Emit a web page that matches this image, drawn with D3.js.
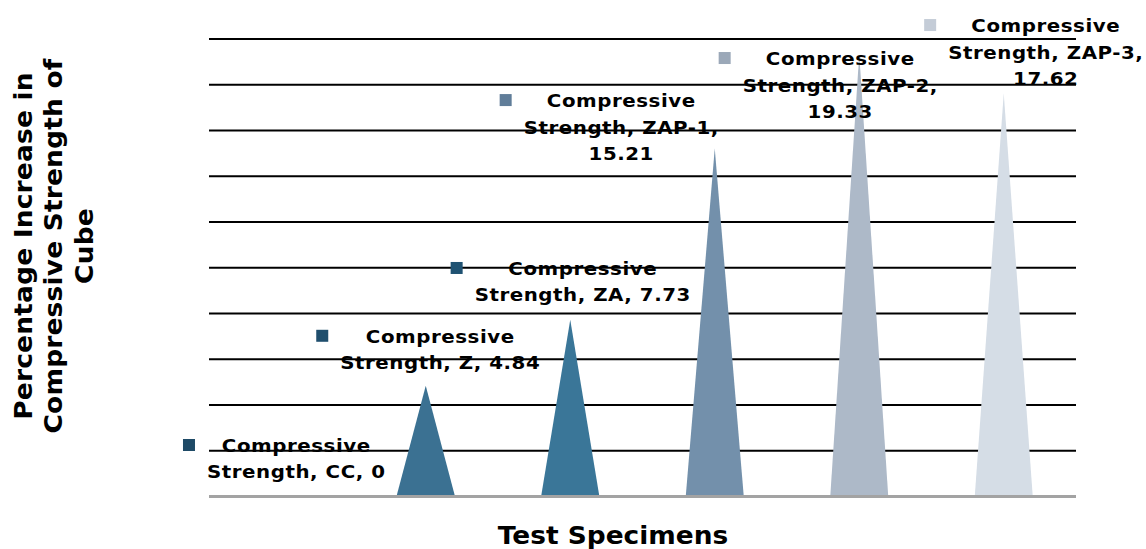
<!DOCTYPE html>
<html>
<head>
<meta charset="utf-8">
<script src="https://cdn.jsdelivr.net/npm/d3@7"></script>
<style>
  html, body { margin: 0; padding: 0; background: #fff; }
  svg { display: block; }
  text { font-family: "DejaVu Sans", Verdana, sans-serif; font-weight: bold; fill: #000; }
</style>
</head>
<body>
<svg id="chart" width="1146" height="549"></svg>
<script>
// ---- data ----
const seriesName = "Compressive Strength";
const categories = ["CC", "Z", "ZA", "ZAP-1", "ZAP-2", "ZAP-3"];
const values = [0, 4.84, 7.73, 15.21, 19.33, 17.62];
const yTicks = [2, 4, 6, 8, 10, 12, 14, 16, 18, 20];
const xTitle = "Test Specimens";
const yTitleLines = ["Percentage Increase in", "Compressive Strength of", "Cube"];

// ---- styles / layout ----
const coneColors = ["#2f5f80", "#3b7192", "#3a7698", "#7390ab", "#adb9c8", "#d5dde6"];
const markerColors = ["#1e4a66", "#1f4e6d", "#1f5272", "#607d99", "#9ba8b8", "#c4ccd7"];
// label offsets: dx from category centre, dy of first baseline from the cone tip, number of lines
const labelDx = [15, 14.5, 12.5, -93.5, -19, 42];
const labelDy = [-44.5, -43, -44.7, -41.5, 10.7, -61.4];
const labelLines = [2, 2, 2, 3, 3, 3];
const stretch = 1.1;

const svg = d3.select("#chart");
const x = d3.scaleBand().domain(categories).range([209, 1076]).paddingInner(0).paddingOuter(0);
const y = d3.scaleLinear().domain([0, 20]).range([496.5, 39]);

// gridlines
const grid = svg.append("g");
grid.selectAll("line").data(yTicks).join("line")
  .attr("x1", x.range()[0]).attr("x2", x.range()[1])
  .attr("y1", d => y(d)).attr("y2", d => y(d))
  .attr("stroke", "#000").attr("stroke-width", 2.2);

// baseline axis
svg.append("line")
  .attr("x1", x.range()[0]).attr("x2", x.range()[1])
  .attr("y1", y(0)).attr("y2", y(0))
  .attr("stroke", "#a3a3a3").attr("stroke-width", 3);

// cones
const coneW = x.bandwidth() * 0.4;
svg.append("g").selectAll("path").data(categories).join("path")
  .attr("d", (c, i) => {
    const cx = x(c) + x.bandwidth() / 2;
    const p = d3.path();
    p.moveTo(cx - coneW / 2, y(0) - 1.5);
    p.lineTo(cx, y(values[i]));
    p.lineTo(cx + coneW / 2, y(0) - 1.5);
    p.closePath();
    return p.toString();
  })
  .attr("fill", (c, i) => coneColors[i])
  .attr("display", (c, i) => values[i] > 0 ? null : "none");

// data labels
const lblG = svg.append("g");
categories.forEach((c, i) => {
  const v = values[i];
  const lines = labelLines[i] === 3
    ? ["Compressive", `Strength, ${c},`, `${v}`]
    : ["Compressive", `Strength, ${c}, ${v}`];
  const cx = x(c) + x.bandwidth() / 2 + labelDx[i];
  const by = y(v) + labelDy[i];
  const g = lblG.append("g");
  const tg = g.append("g").attr("transform", `translate(${cx},${by}) scale(${stretch},1)`);
  let maxW = 0;
  lines.forEach((t, k) => {
    const te = tg.append("text")
      .attr("x", 0).attr("y", k * 26.5)
      .attr("text-anchor", "middle")
      .style("font-size", "18px")
      .style("letter-spacing", "0.5px")
      .text(t);
    maxW = Math.max(maxW, te.node().getComputedTextLength() * stretch);
  });
  g.insert("rect", "g")
    .attr("x", cx - maxW / 2 - 24).attr("y", by - 13)
    .attr("width", 12).attr("height", 12)
    .attr("fill", markerColors[i]);
});

// axis titles
svg.append("g").attr("transform", `translate(613,544) scale(${stretch},1)`)
  .append("text")
  .attr("x", 0).attr("y", 0)
  .attr("text-anchor", "middle")
  .style("font-size", "24px")
  .text(xTitle);

const yT = svg.append("g").attr("transform", `translate(0,246) rotate(-90) scale(${stretch},1)`);
yTitleLines.forEach((t, k) => {
  yT.append("text")
    .attr("x", 0).attr("y", 32 + k * 30.5)
    .attr("text-anchor", "middle")
    .style("font-size", "24px").style("letter-spacing", "0.2px")
    .text(t);
});
</script>
</body>
</html>
